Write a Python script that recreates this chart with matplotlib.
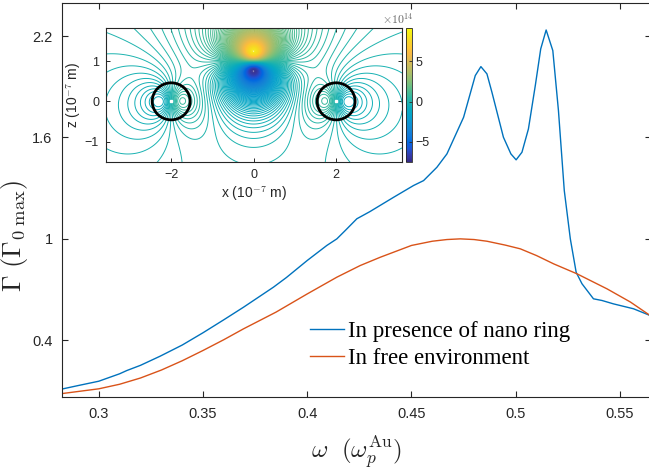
import numpy as np
import matplotlib
matplotlib.use("Agg")
import matplotlib.pyplot as plt
from matplotlib.colors import LinearSegmentedColormap, Normalize
from matplotlib.patches import Circle

# ---------------- data: main spectra ----------------
omega_ring = [0.2825, 0.29, 0.30, 0.31, 0.3134, 0.32, 0.3294, 0.34, 0.35, 0.36,
              0.3694, 0.3838, 0.39, 0.40, 0.4094, 0.4142, 0.4182, 0.4238, 0.43, 0.4414,
              0.451, 0.4558, 0.4622, 0.467, 0.475, 0.4806, 0.4833, 0.4862, 0.4886, 0.4941,
              0.4977, 0.5002, 0.503, 0.5061, 0.5094, 0.512, 0.5146, 0.5178, 0.5205, 0.5233,
              0.5262, 0.529, 0.5318, 0.5373, 0.5414, 0.5469, 0.5565, 0.5645]
gamma_ring = [0.11, 0.13, 0.156, 0.20, 0.219, 0.25, 0.304, 0.37, 0.443, 0.52,
              0.594, 0.713, 0.77, 0.871, 0.960, 0.999, 1.048, 1.118, 1.16, 1.245,
              1.315, 1.344, 1.423, 1.502, 1.719, 1.966, 2.019, 1.976, 1.867, 1.601,
              1.502, 1.467, 1.512, 1.650, 1.907, 2.124, 2.236, 2.114, 1.759, 1.285,
              0.999, 0.801, 0.733, 0.644, 0.634, 0.614, 0.585, 0.545]

omega_free = [0.2825, 0.29, 0.30, 0.31, 0.32, 0.33, 0.34, 0.35, 0.36, 0.3694,
              0.385, 0.40, 0.4142, 0.4254, 0.435, 0.45, 0.46, 0.467, 0.4734, 0.48,
              0.4862, 0.495, 0.5022, 0.51, 0.5182, 0.5294, 0.537, 0.5438, 0.555, 0.5645]
gamma_free = [0.083, 0.095, 0.111, 0.138, 0.175, 0.222, 0.277, 0.338, 0.402, 0.466,
              0.565, 0.673, 0.772, 0.841, 0.890, 0.960, 0.985, 0.995, 0.999, 0.995,
              0.985, 0.962, 0.940, 0.900, 0.851, 0.792, 0.745, 0.703, 0.625, 0.545]

labels = ["In presence of nano ring", "In free environment"]
xticks = [0.3, 0.35, 0.4, 0.45, 0.5, 0.55]
yticks = [0.4, 1.0, 1.6, 2.2]

# ---------------- data: inset field sources (units 1e14, 1e-7 m) ----------------
# central emitter: 3D-like dipole; rings: 2D-like dipoles
emit_x, emit_z, emit_p, emit_core = 0.0, 1.0, 2.5, 0.35
ring_x = [-2.0, 2.0]
ring_z = [0.0, 0.0]
ring_p = [0.55, -0.55]
ring_core = 0.3
ring_r = 0.46
inset_xticks = [-2, 0, 2]
inset_yticks = [-1, 0, 1]
cbar_ticks = [-5, 0, 5]
clim = (-7.5, 9.2)

# parula-like colormap
parula_pts = [
    (0.2081, 0.1663, 0.5292), (0.2081, 0.2386, 0.6771), (0.1253, 0.3242, 0.8303),
    (0.0060, 0.4086, 0.8828), (0.0629, 0.4737, 0.8554), (0.0793, 0.5200, 0.8312),
    (0.0488, 0.5772, 0.8228), (0.0239, 0.6287, 0.8038), (0.0267, 0.6642, 0.7607),
    (0.0843, 0.6928, 0.7062), (0.1801, 0.7177, 0.6424), (0.3022, 0.7376, 0.5712),
    (0.4420, 0.7481, 0.5033), (0.5709, 0.7485, 0.4494), (0.6834, 0.7435, 0.4044),
    (0.7858, 0.7356, 0.3633), (0.8824, 0.7274, 0.3217), (0.9739, 0.7314, 0.2666),
    (0.9955, 0.7861, 0.1967), (0.9697, 0.8481, 0.1475), (0.9598, 0.9218, 0.0948),
    (0.9763, 0.9831, 0.0538)]
parula = LinearSegmentedColormap.from_list("parula", parula_pts)

blue = (0.0, 0.447, 0.741)
orange = (0.850, 0.325, 0.098)
axcol = (0.15, 0.15, 0.15)

plt.rcParams['font.family'] = ['Liberation Sans', 'DejaVu Sans']
plt.rcParams['mathtext.fontset'] = 'cm'

W, H = 649, 472
fig = plt.figure(figsize=(W / 100, H / 100), dpi=100)

def fbox(l, t, r, b):
    return [l / W, (H - b) / H, (r - l) / W, (b - t) / H]

# ---------------- main axes ----------------
ax = fig.add_axes(fbox(62.3, 3.3, 651, 397))
ax.plot(omega_ring, gamma_ring, color=blue, lw=1.0, label=labels[0])
ax.plot(omega_free, gamma_free, color=orange, lw=1.0, label=labels[1])
ax.set_xlim(0.2825, 0.5649)
ax.set_ylim(0.0625, 2.394)
ax.set_xticks(xticks)
ax.set_xticklabels(["0.3", "0.35", "0.4", "0.45", "0.5", "0.55"])
ax.set_yticks(yticks)
ax.set_yticklabels(["0.4", "1", "1.6", "2.2"])
ax.tick_params(direction='in', length=4, width=0.8, colors=axcol, labelsize=10.5,
               top=True, right=True, pad=7)
for s in ax.spines.values():
    s.set_color(axcol)
    s.set_linewidth(0.8)
ax.set_xlabel(r'$\omega\ \ (\omega_p^{\mathrm{Au}})$', fontsize=18, color=axcol)
ax.xaxis.set_label_coords(0.5, -0.095)
ax.set_ylabel(r'$\Gamma\ (\Gamma_{0\ \mathrm{max}})$', fontsize=19, color=axcol)
ax.yaxis.set_label_coords(-0.055, 0.41)

leg = ax.legend(loc='center left', bbox_to_anchor=(310 / W, (H - 345) / H),
                bbox_transform=fig.transFigure, frameon=False,
                prop={'family': 'Liberation Serif', 'size': 16.5},
                handlelength=1.5, handletextpad=0.15, labelspacing=0.22,
                borderpad=0, borderaxespad=0)

# ---------------- inset ----------------
axi = fig.add_axes(fbox(106, 27.7, 401.7, 161.7))
xg = np.linspace(-3.6, 3.6, 600)
zg = np.linspace(-1.55, 1.9, 300)
X, Z = np.meshgrid(xg, zg)
dx = X - emit_x
dz = Z - emit_z
F = emit_p * dz / (dx ** 2 + dz ** 2 + emit_core ** 2) ** 1.5
for rx, rz, rp in zip(ring_x, ring_z, ring_p):
    dx = X - rx
    dz = Z - rz
    F += rp * dx / (dx ** 2 + dz ** 2 + ring_core ** 2)
levels = np.linspace(clim[0], clim[1], 200)
norm = Normalize(vmin=clim[0], vmax=clim[1])
axi.contour(X, Z, F, levels=levels, cmap=parula, norm=norm, linewidths=0.7)
for rx, rz in zip(ring_x, ring_z):
    axi.add_patch(Circle((rx, rz), ring_r, fill=False, lw=2.0, ec='black', zorder=5))
axi.plot(ring_x, ring_z, 's', color='white', ms=1.8, zorder=6)
axi.set_xlim(-3.58, 3.59)
axi.set_ylim(-1.5, 1.83)
axi.set_xticks(inset_xticks)
axi.set_yticks(inset_yticks)
axi.tick_params(direction='in', length=3, width=0.7, colors=axcol, labelsize=9,
                top=True, right=True, pad=5)
for s in axi.spines.values():
    s.set_color(axcol)
    s.set_linewidth(0.8)
axi.set_facecolor('white')
axi.set_xlabel(r'x (10$^{-7}$ m)', fontsize=10, color=axcol, labelpad=3)
axi.set_ylabel(r'z (10$^{-7}$ m)', fontsize=10, color=axcol, labelpad=1)

cax = fig.add_axes(fbox(405.7, 27.7, 411.7, 161.7))
sm = matplotlib.cm.ScalarMappable(norm=norm, cmap=parula)
cb = fig.colorbar(sm, cax=cax)
cb.set_ticks(cbar_ticks)
cb.ax.tick_params(direction='in', length=2, width=0.6, colors=axcol, labelsize=9, pad=3)
cb.outline.set_linewidth(0.6)
cb.outline.set_edgecolor(axcol)
fig.text(413 / W, (H - 19) / H, r'$\times10^{14}$', ha='right', va='center',
         fontsize=8.5, color=(0.4, 0.4, 0.4), family='Liberation Sans')

fig.savefig("out.png", dpi=100)
